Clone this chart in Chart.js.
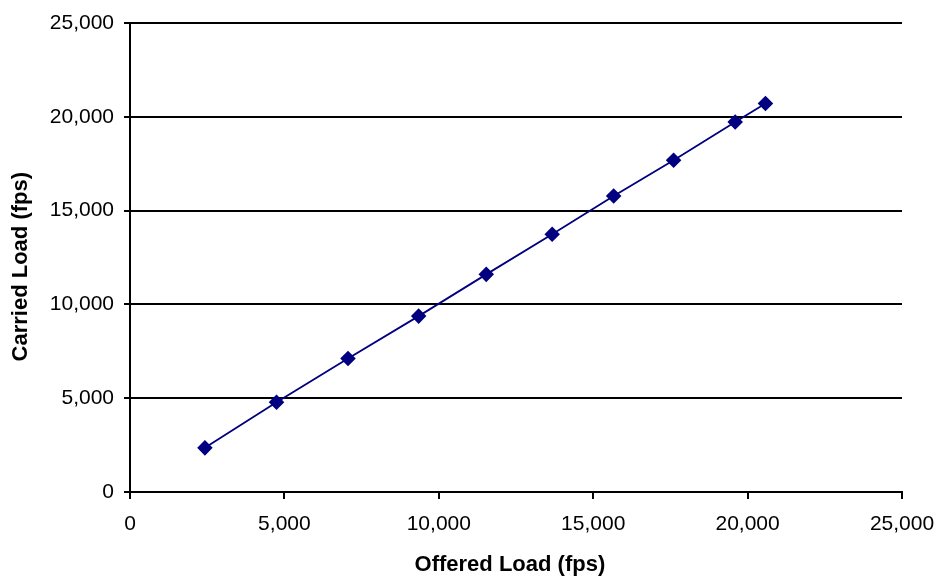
<!DOCTYPE html>
<html><head><meta charset="utf-8">
<script src="https://cdn.jsdelivr.net/npm/chart.js@4"></script>
<style>html,body{margin:0;padding:0;background:#fff}#wrap{width:942px;height:582px}</style>
</head><body><div id="wrap"><canvas id="c" width="942" height="582"></canvas></div>
<script>
const offeredLoad = [2426, 4745, 7060, 9347, 11536, 13671, 15663, 17604, 19599, 20579];
const carriedLoad = [2353, 4787, 7118, 9376, 11601, 13735, 15779, 17684, 19728, 20710];
const xTitle = 'Offered Load (fps)';
const yTitle = 'Carried Load (fps)';
const axisMin = 0, axisMax = 25000, axisStep = 5000;

const pts = offeredLoad.map((x, i) => ({x, y: carriedLoad[i]}));
const font = {family: 'Liberation Sans, Arial, sans-serif', size: 21};
const titleFont = {family: 'Liberation Sans, Arial, sans-serif', size: 22, weight: 'bold'};
const fmt = v => v.toLocaleString('en-US');

new Chart(document.getElementById('c'), {
  type: 'scatter',
  data: {datasets: [{
    data: pts, showLine: true, borderColor: '#000080', backgroundColor: '#000080',
    borderWidth: 1.8, pointStyle: 'rectRot', pointRadius: 6.5, pointHoverRadius: 6.5
  }]},
  options: {
    responsive: false, animation: false,
    layout: {padding: {left: 0, right: 40, top: 23, bottom: 0}},
    plugins: {legend: {display: false}, tooltip: {enabled: false}},
    scales: {
      x: {
        type: 'linear', min: axisMin, max: axisMax,
        afterFit: s => { s.height = 90; s.paddingLeft = 0; s.paddingRight = 0; },
        ticks: {stepSize: axisStep, color: '#000', font, callback: fmt, padding: 13},
        grid: {display: true, drawOnChartArea: false, drawTicks: true, tickLength: 7, color: '#000', lineWidth: 2},
        border: {display: true, color: '#000', width: 2},
        title: {display: true, text: xTitle + '  ', color: '#000', font: titleFont, padding: {top: 0, bottom: 4}}
      },
      y: {
        type: 'linear', min: axisMin, max: axisMax,
        afterFit: s => { s.width = 130; s.paddingTop = 0; s.paddingBottom = 0; },
        ticks: {stepSize: axisStep, color: '#000', font, callback: fmt, padding: 10},
        grid: {display: true, drawTicks: true, tickLength: 6, color: '#000', lineWidth: 2},
        border: {display: true, color: '#000', width: 2},
        title: {display: true, text: yTitle + '   ', color: '#000', font: titleFont, padding: {top: 8, bottom: 0}}
      }
    }
  }
});
</script></body></html>
